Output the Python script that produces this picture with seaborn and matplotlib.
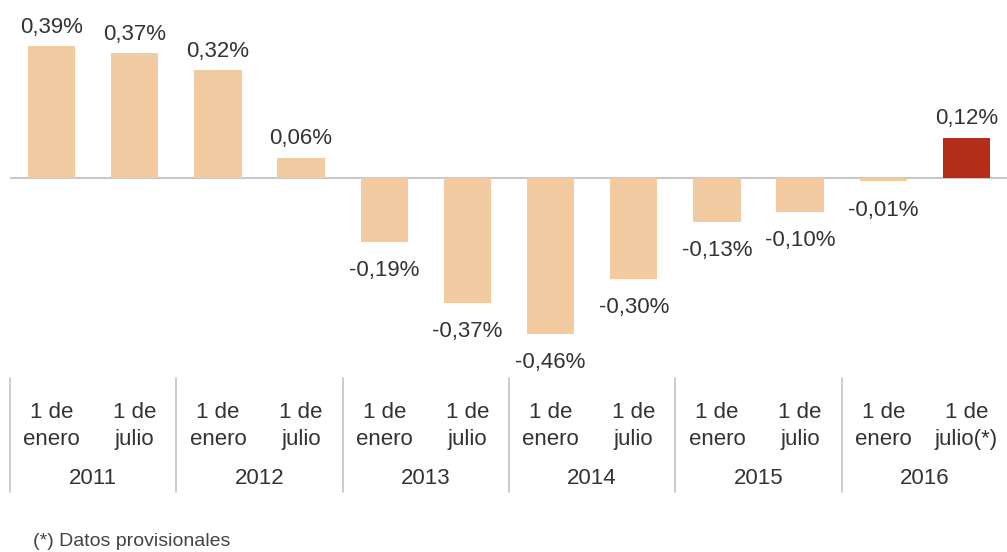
import pandas as pd
import matplotlib.pyplot as plt
import seaborn as sns
from matplotlib.transforms import blended_transform_factory

# --- Data ---
periods = ["2011-ene", "2011-jul", "2012-ene", "2012-jul", "2013-ene", "2013-jul",
           "2014-ene", "2014-jul", "2015-ene", "2015-jul", "2016-ene", "2016-jul"]
tick_labels = ["1 de\nenero", "1 de\njulio"] * 5 + ["1 de\nenero", "1 de\njulio(*)"]
values = [0.39, 0.37, 0.32, 0.06, -0.19, -0.37, -0.46, -0.30, -0.13, -0.10, -0.01, 0.12]
years = ["2011", "2012", "2013", "2014", "2015", "2016"]
footnote = "(*) Datos provisionales"

light = "#f2cba2"
dark = "#b32d19"
bar_colors = [light] * 11 + [dark]
text_color = "#333333"

df = pd.DataFrame({"period": periods, "value": values})

sns.set_style("white")
plt.rcParams["font.family"] = ["Liberation Sans", "DejaVu Sans"]

W, H = 1007, 552
fig = plt.figure(figsize=(W / 100, H / 100), dpi=100)
# axes spans pixel x 10..1008, y 0..370
ax = fig.add_axes([10 / W, (H - 370) / H, 998 / W, 370 / H])

sns.barplot(data=df, x="period", y="value", hue="period", palette=bar_colors,
            order=periods, legend=False, width=0.57, saturation=1, linewidth=0,
            ax=ax)

ax.set_xlim(-0.5, 11.5)
ax.set_ylim(-0.568, 0.527)
ax.axhline(0, color="#c8c8c8", lw=1.5, zorder=0)

# value labels
fs = 16
for cont in ax.containers:
    for bar in cont:
        v = bar.get_height()
        lab = f"{v:.2f}".replace(".", ",") + "%"
        x = bar.get_x() + bar.get_width() / 2
        if v >= 0:
            ax.annotate(lab, (x, v), xytext=(0, 6), textcoords="offset points",
                        ha="center", va="bottom", fontsize=fs, color=text_color)
        else:
            ax.annotate(lab, (x, v), xytext=(0, -13), textcoords="offset points",
                        ha="center", va="top", fontsize=fs, color=text_color)

# category axis
ax.set_xticks(range(len(periods)))
ax.set_xticklabels(tick_labels, fontsize=fs, color=text_color, linespacing=1.35)
ax.tick_params(axis="x", length=0, pad=23)
ax.set_yticks([])
ax.set_xlabel("")
ax.set_ylabel("")
for s in ax.spines.values():
    s.set_visible(False)

trans = blended_transform_factory(ax.transData, fig.transFigure)
for b in [-0.5, 1.5, 3.5, 5.5, 7.5, 9.5]:
    ax.plot([b, b], [(H - 378) / H, (H - 492) / H], transform=trans,
            color="#c4c4c4", lw=1.2, clip_on=False)
for i, y in enumerate(years):
    ax.text(2 * i + 0.5, (H - 478) / H, y, transform=trans, ha="center", va="center",
            fontsize=fs, color=text_color)

fig.text(33 / W, (H - 541) / H, footnote, ha="left", va="center",
         fontsize=14, color="#444444")

fig.savefig("out.png", dpi=100)
